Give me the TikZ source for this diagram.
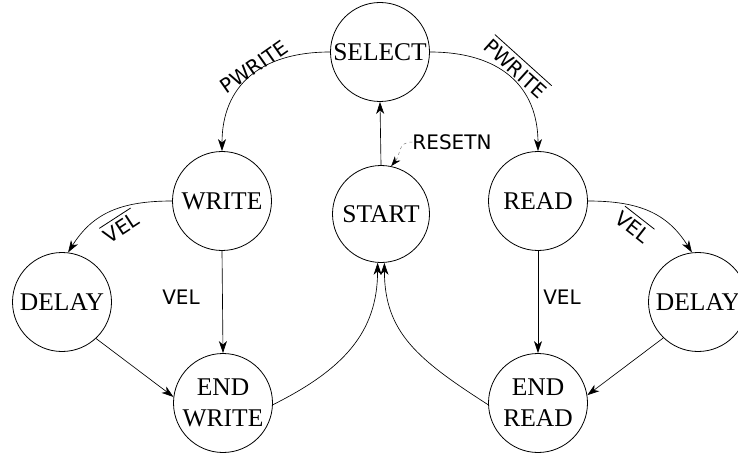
\documentclass[tikz,border=0pt]{standalone}
\usepackage{fontspec}
\setmainfont{Liberation Serif}
\newfontfamily\lblfont{DejaVu Sans}
\newcommand\ovlbl[1]{\vbox{\hrule height 0.8pt\kern 4pt\hbox{#1}}}
\usetikzlibrary{arrows.meta}
\begin{document}
\begin{tikzpicture}[x=1pt,y=1pt,
  state/.style={circle,draw,line width=0.8pt,minimum size=99pt,inner sep=0pt,
    font=\fontsize{25.5}{31}\selectfont,align=center},
  edge/.style={line width=0.65pt,-{Stealth[length=12pt,width=8pt,inset=3.5pt]}},
  lbl/.style={font=\lblfont\fontsize{20}{22}\selectfont,inner sep=0pt}]
\useasboundingbox (0,0) rectangle (738,453);
\node[state] (SELECT) at (380,401) {SELECT};
\node[state,minimum size=97pt] (START) at (381,239) {START};
\node[state] (WRITE) at (222,252) {WRITE};
\node[state] (READ) at (538,252) {READ};
\node[state] (DELAYL) at (62,151) {DELAY};
\node[state] (DELAYR) at (698,151) {DELAY};
\node[state] (ENDW) at (223,50) {END\\WRITE};
\node[state] (ENDR) at (538,50) {END\\READ};

\draw[edge] (SELECT.west) .. controls +(-70,0) and +(0,65) .. (WRITE.north);
\draw[edge] (SELECT.east) .. controls +(70,0) and +(0,65) .. (READ.north);
\draw[edge] (START.north) -- (SELECT.south);
\draw[edge] (WRITE.west) .. controls +(-50,0) and +(25,40) .. (DELAYL.83);
\draw[edge] (READ.east) .. controls +(50,0) and +(-25,40) .. (DELAYR.97);
\draw[edge] (WRITE.south) -- (ENDW.north);
\draw[edge] (READ.south) -- (ENDR.north);
\draw[edge] (DELAYL.-47) -- (ENDW.173);
\draw[edge] (DELAYR.226) -- (ENDR.9);
\draw[edge] (ENDW.-2) .. controls +(70,35) and +(0,-70) .. (START.-94);
\draw[edge] (ENDR.182) .. controls +(-70,45) and +(0,-70) .. (START.-86);

\node[lbl,rotate=35] (pw) at (254,386) {PWRITE};
\node[lbl,rotate=-42] (pwbar) at (517,386) {\ovlbl{PWRITE}};
\node[lbl,rotate=33] (velbarL) at (120,227) {\ovlbl{VEL}};
\node[lbl,rotate=-38] (velbarR) at (634,228) {\ovlbl{VEL}};
\node[lbl] (velL) at (181,156) {VEL};
\node[lbl] (velR) at (562,156) {VEL};
\node[lbl] (rst) at (452,311) {RESETN};
\draw[gray,line width=0.5pt,dashed,-{Stealth[length=10pt,width=7pt,inset=3pt,black]}] (rst.west) .. controls +(-15,0) and +(10,12) .. (START.78);
\end{tikzpicture}
\end{document}
